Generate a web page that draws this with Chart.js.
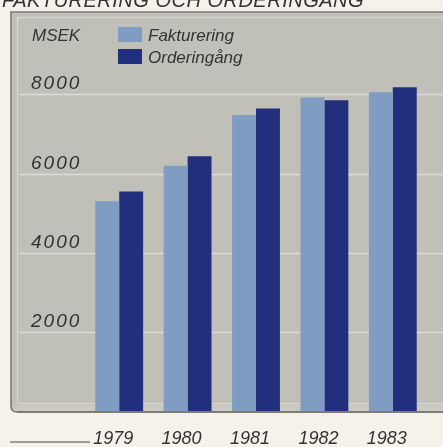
<!DOCTYPE html>
<html>
<head>
<meta charset="utf-8">
<script src="https://cdn.jsdelivr.net/npm/chart.js@4.4.1/dist/chart.umd.min.js"></script>
<style>
  html, body { margin: 0; padding: 0; background: #f4f2e9; }
  #wrap { width: 443px; height: 447px; }
</style>
</head>
<body>
<div id="wrap"><canvas id="myChart" width="443" height="447"></canvas></div>
<script>
const years = ['1979', '1980', '1981', '1982', '1983']
const fakturering = [5300, 6200, 7480, 7920, 8050]
const orderingang = [5550, 6440, 7640, 7850, 8180]
const yTicks = [2000, 4000, 6000, 8000]
const title = 'FAKTURERING OCH ORDERINGÅNG'
const unit = 'MSEK'

const FONT = '"Liberation Sans", Arial, sans-serif'
const INK = '#333333'

// panel, gridlines, tick labels, legend and title are all painted here
const decor = {
  id: 'decor',
  beforeDatasetsDraw (chart) {
    const { ctx } = chart
    const y = chart.scales.y
    ctx.save()
    // grey panel
    ctx.fillStyle = '#c0c0b8'
    ctx.beginPath()
    ctx.moveTo(11, 12)
    ctx.lineTo(450, 12)
    ctx.lineTo(450, 412)
    ctx.lineTo(17, 412)
    ctx.quadraticCurveTo(11, 412, 11, 406)
    ctx.closePath()
    ctx.fill()
    ctx.strokeStyle = '#7c7c74'
    ctx.lineWidth = 1.6
    ctx.stroke()
    // lighter strip along the bottom edge
    ctx.fillStyle = '#cacac3'
    ctx.fillRect(14, 405, 436, 6)
    // light inner rim
    ctx.strokeStyle = '#d8d8d0'
    ctx.lineWidth = 1.2
    ctx.strokeRect(17.5, 17.5, 428, 386)

    // gridlines
    ctx.strokeStyle = '#dcdcd3'
    ctx.lineWidth = 1.4
    yTicks.forEach(v => {
      const py = Math.round(y.getPixelForValue(v)) + 0.5
      ctx.beginPath()
      ctx.moveTo(20, py)
      ctx.lineTo(443, py)
      ctx.stroke()
    })

    // tick labels sit above their lines
    ctx.fillStyle = INK
    ctx.font = `italic 19px ${FONT}`
    ctx.letterSpacing = '2px'
    ctx.textBaseline = 'alphabetic'
    ctx.textAlign = 'left'
    yTicks.forEach(v => {
      ctx.fillText(String(v), 31, y.getPixelForValue(v) - 5)
    })
    ctx.letterSpacing = '0px'

    // unit + legend
    ctx.font = `italic 17px ${FONT}`
    ctx.fillText(unit, 32, 41)
    chart.data.datasets.forEach((ds, i) => {
      const top = 27 + i * 22
      ctx.fillStyle = ds.backgroundColor
      ctx.fillRect(118, top, 24, 15)
      ctx.fillStyle = INK
      ctx.fillText(ds.label, 148, top + 14)
    })

    // title, partly cropped at the top edge
    ctx.font = `italic 20px ${FONT}`
    ctx.letterSpacing = '0.5px'
    ctx.fillText(title, 2, 7)
    ctx.letterSpacing = '0px'
    ctx.restore()
  },
  afterDatasetsDraw (chart) {
    const { ctx } = chart
    const x = chart.scales.x
    ctx.save()
    // bottom edge of the panel over the bar feet
    ctx.strokeStyle = '#7c7c74'
    ctx.lineWidth = 1.8
    ctx.beginPath()
    ctx.moveTo(17, 412)
    ctx.lineTo(450, 412)
    ctx.stroke()

    // year labels below the panel
    ctx.fillStyle = INK
    ctx.font = `italic 18px ${FONT}`
    ctx.textAlign = 'center'
    years.forEach((yr, i) => {
      ctx.fillText(yr, x.getPixelForValue(i) - 6, 444)
    })

    // rule under the first label
    ctx.strokeStyle = '#4a4a44'
    ctx.lineWidth = 1.2
    ctx.beginPath()
    ctx.moveTo(10, 442)
    ctx.lineTo(90, 442)
    ctx.stroke()
    ctx.restore()
  },
}

new Chart(document.getElementById('myChart'), {
  type: 'bar',
  data: {
    labels: years,
    datasets: [
      {
        label: 'Fakturering',
        data: fakturering,
        backgroundColor: '#7f9cc3',
        borderWidth: 0,
      },
      {
        label: 'Orderingång',
        data: orderingang,
        backgroundColor: '#222f7d',
        borderWidth: 0,
      },
    ],
  },
  options: {
    responsive: false,
    animation: false,
    layout: {
      padding: { left: 85, right: 16, top: 15, bottom: 35.5 },
    },
    datasets: {
      bar: {
        categoryPercentage: 0.7,
        barPercentage: 1.0,
      },
    },
    scales: {
      x: { display: false },
      y: { display: false, min: 0, max: 10000 },
    },
    plugins: {
      legend: { display: false },
      tooltip: { enabled: false },
    },
  },
  plugins: [decor],
})
</script>
</body>
</html>
